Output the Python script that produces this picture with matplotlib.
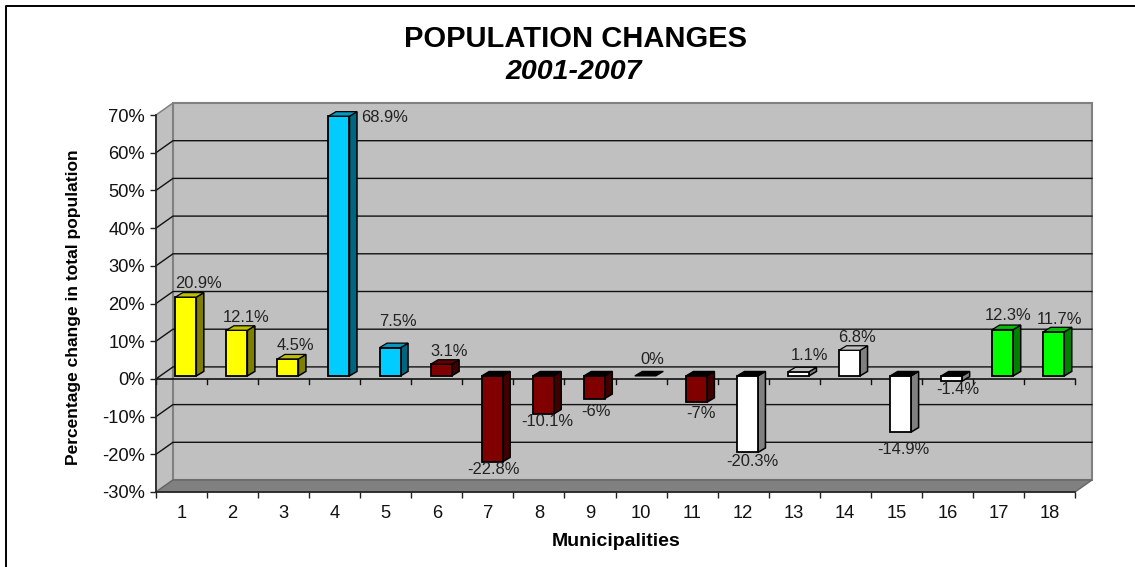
import matplotlib
matplotlib.use('Agg')
import matplotlib.pyplot as plt
from matplotlib.lines import Line2D
from matplotlib.patches import Polygon, Rectangle

W, H = 1135, 567
plt.rcParams['font.family'] = ['Liberation Sans', 'DejaVu Sans']

municipalities = list(range(1, 19))
changes = [20.9, 12.1, 4.5, 68.9, 7.5, 3.1, -22.8, -10.1, -6, 0, -7, -20.3, 1.1, 6.8, -14.9, -1.4, 12.3, 11.7]
groups = ['yellow', 'yellow', 'yellow', 'blue', 'blue', 'red', 'red', 'red', 'red', 'red', 'red',
          'white', 'white', 'white', 'white', 'white', 'green', 'green']
y_ticks = [-30, -20, -10, 0, 10, 20, 30, 40, 50, 60, 70]

# front, side, top
shades = {
    'yellow': ('#ffff00', '#808000', '#bfbf00'),
    'blue': ('#00ccff', '#006680', '#0099bf'),
    'red': ('#800000', '#400000', '#600000'),
    'white': ('#ffffff', '#808080', '#c0c0c0'),
    'green': ('#00ff00', '#008000', '#00bf00'),
}

# label centres in pixels, excel put them a bit everywhere
label_px = [(199, 283), (246, 317), (295, 345), (385, 118), (398, 321), (449, 351),
            (494, 470), (547, 422), (596, 412), (652, 359), (701, 413), (752, 461),
            (809, 356), (857, 337), (903, 450), (958, 389), (1008, 315), (1060, 319)]

fig = plt.figure(figsize=(W / 100, H / 100), dpi=100)
left, right, top, bottom = 156, 1075, 115, 492
ax = fig.add_axes([left / W, 1 - bottom / H, (right - left) / W, (bottom - top) / H])
ax.set_xlim(0.5, 18.5)
ax.set_ylim(-30, 70)
ax.patch.set_visible(False)

# pixel offsets to data units
ux = 18 / (right - left)
uy = 100 / (bottom - top)


def poly(points, fc, ec='none', lw=0, z=1):
    ax.add_patch(Polygon(points, closed=True, facecolor=fc, edgecolor=ec, linewidth=lw, zorder=z, clip_on=False))


# walls and floor
depth_x, depth_y = 17 * ux, 12 * uy
poly([(0.5, -30), (0.5 + depth_x, -30 + depth_y), (0.5 + depth_x, 70 + depth_y), (0.5, 70)], '#c0c0c0', '#808080', 1.1)
poly([(0.5 + depth_x, -30 + depth_y), (18.5 + depth_x, -30 + depth_y), (18.5 + depth_x, 70 + depth_y),
      (0.5 + depth_x, 70 + depth_y)], '#c0c0c0', '#808080', 1.5)
poly([(0.5, -30), (18.5, -30), (18.5 + depth_x, -30 + depth_y), (0.5 + depth_x, -30 + depth_y)], '#808080', '#666666', 1.0)

for v in y_ticks[1:-1]:
    ax.plot([0.5, 0.5 + depth_x, 18.5 + depth_x], [v, v + depth_y, v + depth_y],
            color='#111111', lw=1.0, zorder=2, clip_on=False)

# x axis at zero with its own ticks
ax.plot([0.5, 18.5], [0, 0], color='#111111', lw=1.2, zorder=3, clip_on=False)
for x in range(0, 19):
    ax.plot([x + 0.5, x + 0.5], [0, -5.5 * uy], color='#111111', lw=1.0, zorder=3, clip_on=False)

# bars, fake 3d
bar_w = 21 * ux
off_x, off_y = 4.3 * ux, 3 * uy
d_x, d_y = 7.5 * ux, 4.5 * uy
for m, v, g in zip(municipalities, changes, groups):
    front, side, cap = shades[g]
    x0 = m + off_x - bar_w / 2
    x1 = x0 + bar_w
    y0 = off_y
    y1 = v + off_y
    hi = max(y0, y1)
    lo = min(y0, y1)
    if v != 0:
        poly([(x1, lo), (x1 + d_x, lo + d_y), (x1 + d_x, hi + d_y), (x1, hi)], side, 'black', 1.1, z=4)
        ax.add_patch(Rectangle((x0, lo), bar_w, hi - lo, facecolor=front, edgecolor='black',
                               linewidth=1.3, zorder=5, clip_on=False))
    poly([(x0, hi), (x1, hi), (x1 + d_x, hi + d_y), (x0 + d_x, hi + d_y)],
         cap if v > 0 else 'black', 'black', 0.9, z=5)

# axes furniture
for name in ('top', 'right'):
    ax.spines[name].set_visible(False)
for name in ('left', 'bottom'):
    ax.spines[name].set_color('#222222')
    ax.spines[name].set_linewidth(1.2)
    ax.spines[name].set_zorder(3)

ax.set_yticks(y_ticks)
ax.set_yticklabels([f'{v}%' for v in y_ticks], fontsize=13.2, color='#111111')
ax.set_xticks([x + 0.5 for x in range(0, 19)])
ax.set_xticklabels([])
ax.set_xticks(municipalities, minor=True)
ax.set_xticklabels([str(m) for m in municipalities], minor=True, fontsize=13.2, color='#111111')
ax.tick_params(axis='y', length=4.3, width=1.0, pad=3.5, color='#222222')
ax.tick_params(axis='x', which='major', length=4.3, width=1.0, color='#222222')
ax.tick_params(axis='x', which='minor', length=0, pad=9.5)

for v, (px, py) in zip(changes, label_px):
    fig.text(px / W, 1 - py / H, f'{v:g}%', ha='center', va='center', fontsize=11.9, color='#222222')

fig.text(575 / W, 1 - 39 / H, 'POPULATION CHANGES', ha='center', va='center', fontsize=21, fontweight='bold')
fig.text(574 / W, 1 - 72 / H, '2001-2007', ha='center', va='center', fontsize=20.5,
         fontweight='bold', fontstyle='italic')
fig.text(616 / W, 1 - 541 / H, 'Municipalities', ha='center', va='center', fontsize=14, fontweight='bold')
fig.text(74 / W, 1 - 307 / H, 'Percentage change in total population', rotation=90,
         ha='center', va='center', fontsize=12.5, fontweight='bold')

# outer border, only top and left show
fig.add_artist(Line2D([6 / W, 6 / W, 1], [0, 1 - 6 / H, 1 - 6 / H], color='black', lw=1.4))

fig.savefig('out.png', dpi=100)
